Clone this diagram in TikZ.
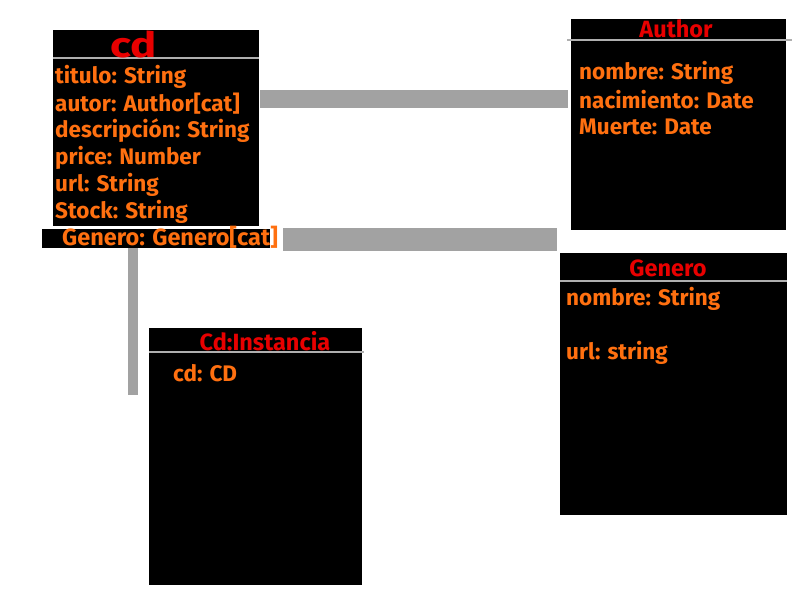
\documentclass[tikz,border=0pt]{standalone}
\usepackage{fontspec}
\setmainfont{Fira Sans}
\usetikzlibrary{positioning}
\definecolor{attrColour}{RGB}{255,112,16}
\definecolor{titleColour}{RGB}{232,0,0}
\definecolor{barColour}{RGB}{162,162,162}
\definecolor{ruleColour}{RGB}{175,175,175}
\tikzset{
	classbox/.style={fill=black, draw=none, anchor=north west, inner sep=0pt},
	attr/.style={anchor=west, inner sep=0pt, text=attrColour, font=\bfseries\fontsize{22.5}{22.5}\selectfont},
	classtitle/.style={inner sep=0pt, text=titleColour, font=\bfseries\fontsize{23.5}{23.5}\selectfont},
	headrule/.style={draw=ruleColour, line width=1.5pt},
	bar/.style={draw=barColour}
}

\begin{document}
\begin{tikzpicture}[x=1pt, y=-1pt]
		\useasboundingbox (0,0) rectangle (800,600);

		% the cd class
		\node[classbox, minimum width=206pt, minimum height=196pt] (cd) at (53,30) {};
		\node[classbox, minimum width=228pt, minimum height=19pt] (cdrow) at (42,229) {};
		\draw[headrule] (cd.west |- 0,58) -- (cd.east |- 0,58);
		\node[classtitle, font=\bfseries\fontsize{35}{35}\selectfont, anchor=base] (cdtitle) at (134,57) {\scalebox{1.25}[1]{cd}};
		\node[attr] (cdtitulo) at (55,77) {titulo: String};
		\node[attr] (cdautor) at (55,104) {autor: Author[cat]};
		\node[attr] (cddesc) at (55,131) {descripción: String};
		\node[attr] (cdprice) at (55,158) {price: Number};
		\node[attr] (cdurl) at (55,185) {url: String};
		\node[attr] (cdstock) at (55,212) {Stock: String};
		\node[attr, font=\bfseries\fontsize{23.5}{23.5}\selectfont] (cdgenero) at (62,237) {Genero: Genero[cat]};

		% the Author class
		\node[classbox, minimum width=215pt, minimum height=211pt] (author) at (571,19) {};
		\draw[headrule] (567,40) -- (792,40);
		\node[classtitle] (authortitle) at (676,29) {Author};
		\node[attr] (authornombre) at (579,73) {nombre: String};
		\node[attr] (authornac) at (579,100) {nacimiento: Date};
		\node[attr] (authormuerte) at (579,127) {Muerte: Date};

		% the Genero class
		\node[classbox, minimum width=227pt, minimum height=262pt] (genero) at (560,253) {};
		\draw[headrule] (genero.west |- 0,281) -- (genero.east |- 0,281);
		\node[classtitle] (generotitle) at (668,268) {Genero};
		\node[attr] (generonombre) at (566,299) {nombre: String};
		\node[attr] (generourl) at (566,353) {url: string};

		% the Cd:Instancia class
		\node[classbox, minimum width=213pt, minimum height=257pt] (inst) at (149,328) {};
		\draw[headrule] (inst.west |- 0,352) -- (364,352);
		\node[classtitle] (insttitle) at (265,341) {Cd:Instancia};
		\node[attr] (instcd) at (173,373) {cd: CD};

		% the links
		\coordinate (instend) at (133,395);
		\draw[bar, line width=18pt, shorten <=1pt, shorten >=3pt] (cd.east |- 0,99) -- (author.west |- 0,99);
		\draw[bar, line width=23pt, shorten <=5pt, shorten >=3pt] (cdgenero.east |- 0,239.5) -- (genero.west |- 0,239.5);
		\draw[bar, line width=10pt] (cdrow.south -| instend) -- (instend);
	\end{tikzpicture}
\end{document}
